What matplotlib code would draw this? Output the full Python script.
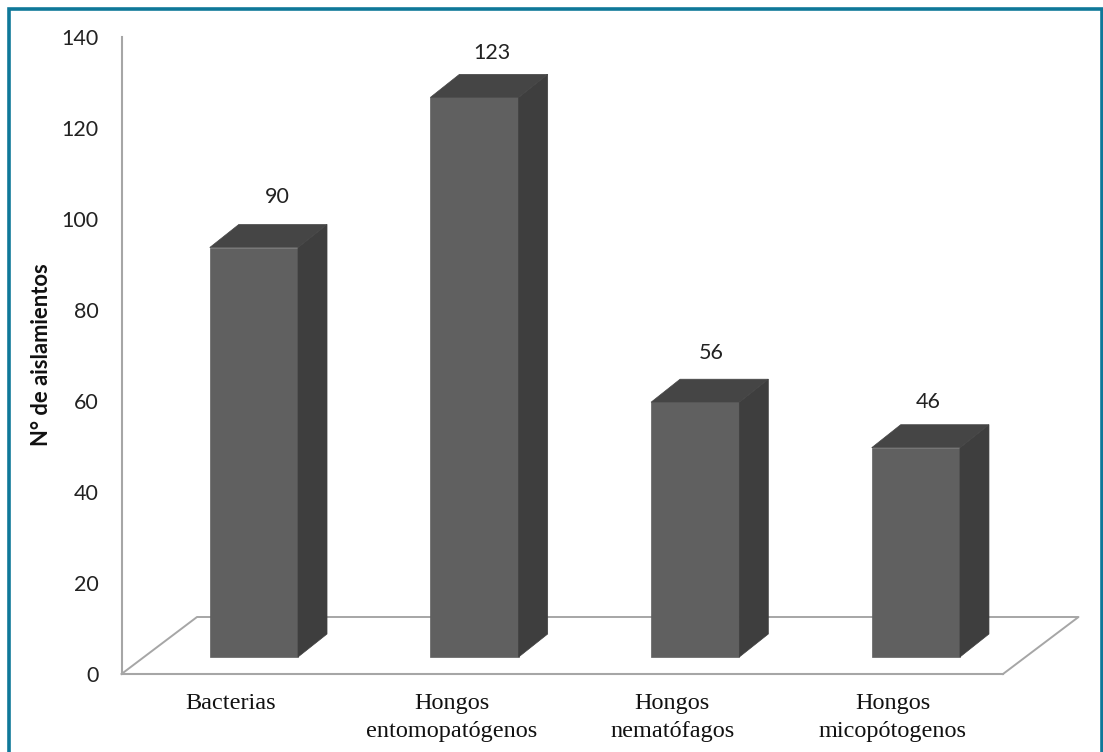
import matplotlib.pyplot as plt
from matplotlib.patches import Polygon, Rectangle
import numpy as np

# data
categories = ['Bacterias', 'Hongos\nentomopatógenos', 'Hongos\nnematófagos', 'Hongos\nmicopótogenos']
counts = [90, 123, 56, 46]
yticks = [0, 20, 40, 60, 80, 100, 120, 140]

W, H = 1103, 752
fig = plt.figure(figsize=(W/100, H/100), dpi=100)

# frame around the chart
fig.add_artist(Rectangle((8.5/W, -0.02), (1101.5-8.5)/W, 1.02 - 8.5/H, fill=False,
                         edgecolor='#0f7899', linewidth=2.6, transform=fig.transFigure))

left, right, top, bottom = 121.5, 1003, 37, 674
ax = fig.add_axes([left/W, 1 - bottom/H, (right-left)/W, (bottom-top)/H])
ax.set_ylim(0, 140)
ax.set_xlim(-0.6, 3.395)

for s in ['top', 'right']:
    ax.spines[s].set_visible(False)
for s in ['left', 'bottom']:
    ax.spines[s].set_color('#a6a6a6')
    ax.spines[s].set_linewidth(1.5)

x = np.arange(len(categories))
width = 0.4
dx = 29 / 220.7         # depth of the 3d look, x units
dy = 23 / 4.55          # depth of the 3d look, y units
base = 17 / 4.55        # bars stand a little inside the floor

# floor
floor_x = [-0.6, -0.6 + 75.5/220.7, 3.395 + 75.5/220.7, 3.395]
floor_y = [0, 57/4.55, 57/4.55, 0]
ax.plot(floor_x, floor_y, color='#a6a6a6', lw=1.4, clip_on=False, zorder=1)

ax.bar(x, counts, width, bottom=base, color='#606060', edgecolor='#606060', linewidth=0.5, zorder=3)

for xi, v in zip(x, counts):
    x0, x1 = xi - width/2, xi + width/2
    y0, y1 = base, base + v
    ax.add_patch(Polygon([(x1, y0), (x1 + dx, y0 + dy), (x1 + dx, y1 + dy), (x1, y1)],
                         facecolor='#3e3e3e', edgecolor='#3e3e3e', lw=0.5, zorder=3))
    ax.add_patch(Polygon([(x0, y1), (x1, y1), (x1 + dx, y1 + dy), (x0 + dx, y1 + dy)],
                         facecolor='#454545', edgecolor='#454545', lw=0.5, zorder=3))

# value labels, nudged by hand
nudge = [51, 44, 49, 46]
shift = [23, 17, 16, 12]
for xi, v, n, s in zip(x, counts, nudge, shift):
    ax.annotate(str(v), (xi, base + v), xytext=(s, n), textcoords='offset pixels',
                ha='center', va='center', fontsize=15.5, family='Lato', color='#222222')

ax.set_yticks(yticks)
ax.set_yticklabels(yticks, fontsize=15.5, family='Lato', color='#222222')
ax.tick_params(axis='y', length=0, pad=16.5)
ax.set_xticks(x - 23/220.7)
ax.set_xticklabels(categories, fontsize=17.5, family='Liberation Serif', color='#111111',
                   linespacing=1.45)
ax.tick_params(axis='x', length=0, pad=13.5)

fig.text(42/W, 1 - 355/H, 'N° de aislamientos', rotation=90, ha='center', va='center',
         fontsize=15.8, fontweight='bold', family='Lato', color='#111111')

fig.savefig('out.png', dpi=100)
